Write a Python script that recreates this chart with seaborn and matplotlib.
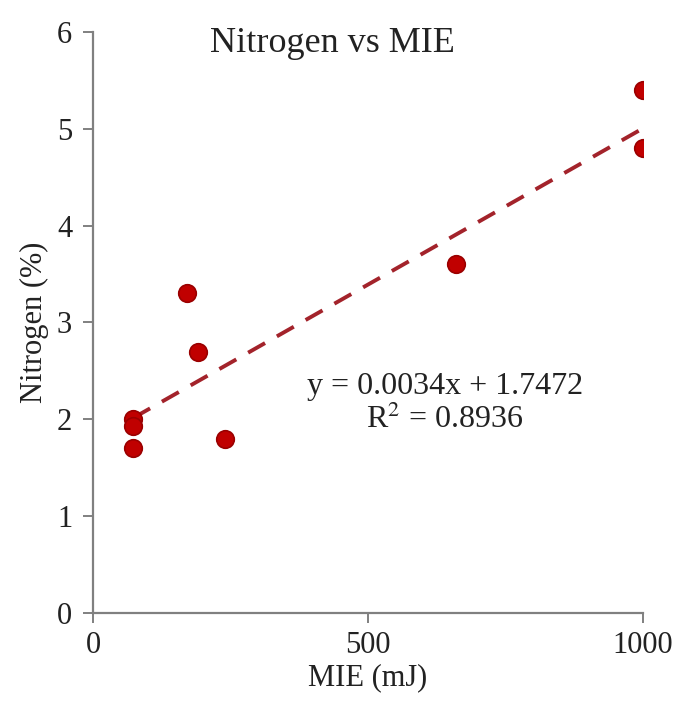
import matplotlib
matplotlib.use("Agg")
import matplotlib.pyplot as plt
import seaborn as sns
import numpy as np
import pandas as pd

# Data
mie_mj = [1000, 1000, 660, 170, 190, 240, 73, 73, 73]
nitrogen_pct = [5.4, 4.8, 3.6, 3.3, 2.7, 1.8, 2.0, 1.93, 1.7]
x_ticks = [0, 500, 1000]
y_ticks = [0, 1, 2, 3, 4, 5, 6]
title_text = "Nitrogen vs MIE"
eq_text = "y = 0.0034x + 1.7472"
r2_text = "R$^2$ = 0.8936"

df = pd.DataFrame({"MIE (mJ)": mie_mj, "Nitrogen (%)": nitrogen_pct})

sns.set_theme(style="white")
plt.rcParams["font.family"] = ["Liberation Serif", "DejaVu Serif"]
plt.rcParams["mathtext.fontset"] = "stix"

fig = plt.figure(figsize=(6.81, 7.09), dpi=100)
ax = fig.add_axes([0.1366, 0.1354, 0.8076, 0.8195])

sns.regplot(data=df, x="MIE (mJ)", y="Nitrogen (%)", ax=ax, ci=None,
            scatter_kws=dict(s=160, color="#C00000", edgecolor="#9A0000",
                             linewidths=1.2, alpha=1, zorder=3),
            line_kws=dict(color="#A3232B", lw=2.8, linestyle=(0, (5, 3.5)),
                          zorder=2))

ax.set_xlim(0, 1000)
ax.set_ylim(0, 6)
ax.set_xticks(x_ticks)
ax.set_yticks(y_ticks)
for s in ["top", "right"]:
    ax.spines[s].set_visible(False)
for s in ["left", "bottom"]:
    ax.spines[s].set_color("#808080")
    ax.spines[s].set_linewidth(1.6)
ax.tick_params(axis="both", direction="out", length=7, width=1.4,
               color="#808080", labelsize=22, labelcolor="#222222", pad=6,
               bottom=True, left=True)
ax.tick_params(axis="y", pad=8)
ax.set_xlabel("MIE (mJ)", fontsize=22, color="#222222", labelpad=2)
ax.set_ylabel("Nitrogen (%)", fontsize=22, color="#222222", labelpad=6)

ax.text(436, 5.88, title_text, fontsize=26, color="#222222",
        ha="center", va="center")
ax.text(640, 2.34, eq_text, fontsize=23, color="#222222",
        ha="center", va="center")
ax.text(640, 2.0, r2_text, fontsize=23, color="#222222",
        ha="center", va="center")

fig.savefig("out.png", dpi=100)
